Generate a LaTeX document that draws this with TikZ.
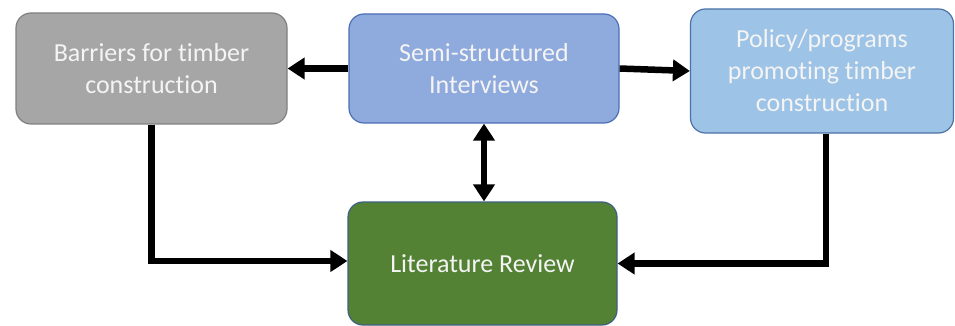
\documentclass[tikz,border=0pt]{standalone}
\usepackage{fontspec}
\setmainfont{Carlito}[Ligatures=NoCommon]
\usetikzlibrary{arrows.meta, positioning}
\definecolor{barriergray}{RGB}{166,166,166}
\definecolor{barrierline}{RGB}{128,128,128}
\definecolor{interviewblue}{RGB}{143,170,220}
\definecolor{interviewline}{RGB}{75,110,180}
\definecolor{policyblue}{RGB}{157,195,230}
\definecolor{policyline}{RGB}{75,115,165}
\definecolor{reviewgreen}{RGB}{84,130,53}
\definecolor{reviewline}{RGB}{60,95,130}
\definecolor{labelwhite}{RGB}{244,244,244}

\begin{document}
\begin{tikzpicture}[x=1pt, y=-1pt,
		block/.style={rectangle, rounded corners=15pt, line width=1.2pt, align=center,
			text=labelwhite, font=\fontsize{26}{32}\selectfont, inner sep=2pt},
		flow/.style={line width=6.5pt, -{Triangle[length=17pt, width=21pt]}}]
			\useasboundingbox (0,0) rectangle (955,326);
			\node[block, fill=barriergray, draw=barrierline, minimum width=271pt, minimum height=111pt] (barriers) at (151.5,68.5) {Barriers for timber\\construction};
			\node[block, fill=interviewblue, draw=interviewline, minimum width=270pt, minimum height=109pt] (interviews) at (484,68.5) {Semi-structured\\Interviews};
			\node[block, fill=policyblue, draw=policyline, minimum width=263pt, minimum height=124pt] (policy) at (822,71) {Policy/programs\\promoting timber\\construction};
			\node[block, fill=reviewgreen, draw=reviewline, minimum width=269pt, minimum height=123pt] (review) at (482.5,263.5) {Literature Review};
			\draw[flow] (interviews.west) -- (barriers.east);
			\draw[flow] (interviews.east) -- (policy.west);
			\draw[flow, {Triangle[length=17pt, width=21pt]}-{Triangle[length=17pt, width=21pt]}] (interviews.south) -- (interviews.south |- review.north);
			\draw[flow] (barriers.south) |- ([yshift=2.5pt]review.west);
			\draw[flow] ([xshift=4pt]policy.south) |- (review.east);
		\end{tikzpicture}
\end{document}
